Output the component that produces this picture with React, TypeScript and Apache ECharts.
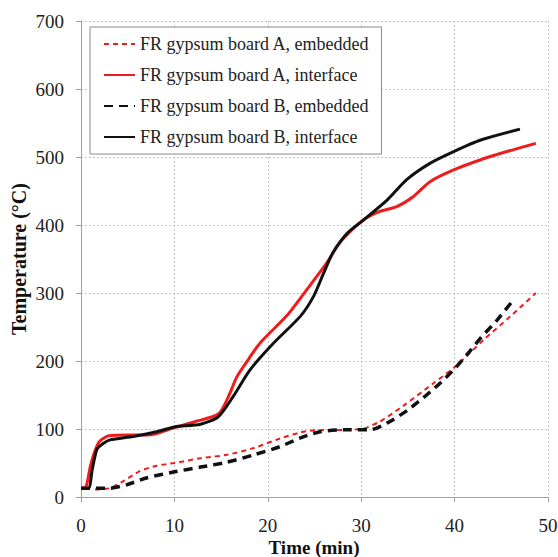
import React, { useEffect, useRef } from "react";
import * as echarts from "echarts";

const seriesNames = [
  "FR gypsum board A, embedded",
  "FR gypsum board A, interface",
  "FR gypsum board B, embedded",
  "FR gypsum board B, interface",
];

const xTitle = "Time (min)";
const yTitle = "Temperature (°C)";

const aEmbedded: [number, number][] = [
  [1.5, 11], [3.1, 13], [4.5, 23], [6.3, 38], [8.1, 46], [10, 50], [12.8, 57], [15.6, 62],
  [18.5, 72], [21.3, 86], [23.5, 95], [25, 98], [30, 100], [32, 111], [34.5, 134], [37.8, 168],
  [40.1, 192], [43.1, 231], [46, 266], [48.7, 300],
];

const aInterface: [number, number][] = [
  [0, 13], [0.5, 14], [1, 45], [1.5, 68], [2, 82], [3, 90], [5, 91], [7, 91], [8, 93], [10, 102],
  [12, 110], [14.7, 122], [15.7, 145], [16.7, 177], [18, 204], [19.2, 227], [22, 266], [23.8, 298],
  [25, 320], [26.3, 344], [27.5, 370], [28.5, 386], [30.3, 408], [32, 420], [33.8, 427],
  [35.6, 442], [37.4, 464], [39.9, 481], [42.8, 496], [45.6, 508], [48.7, 520],
];

const bEmbedded: [number, number][] = [
  [0, 13], [3.1, 13], [4.9, 18], [7, 28], [10, 37], [12.8, 44], [15.6, 51], [18.5, 62], [21.3, 74],
  [23.5, 87], [25.6, 96], [28.5, 99], [31, 99], [32.8, 109], [35, 128], [37, 150], [38.5, 168],
  [40.1, 190], [41.3, 209], [42.8, 234], [44.6, 261], [46.3, 290],
];

const bInterface: [number, number][] = [
  [0, 13], [0.8, 13], [1.2, 40], [1.7, 70], [2.3, 78], [3.1, 84], [5.6, 89], [8.1, 96], [10, 103],
  [12.8, 107], [14.7, 118], [16.3, 148], [18.1, 187], [20.6, 226], [23.5, 266], [24.9, 295],
  [26, 330], [27, 360], [28.5, 388], [30.3, 408], [32.8, 437], [34.9, 467], [37.4, 491],
  [39.9, 508], [42.8, 525], [47, 541],
];

const FONT = "'Liberation Serif', 'Times New Roman', serif";
const RED = "#ee1c1c";
const BLACK = "#111111";

export default function App() {
  const ref = useRef<HTMLDivElement>(null);
  useEffect(() => {
    if (!ref.current) return;
    const chart = echarts.init(ref.current, undefined, { renderer: "svg" });
    const gridLine = { show: true, lineStyle: { color: "#c4c4c4", type: [2, 2] as any, width: 1 } };
    const lineSeries = (name: string, data: [number, number][], color: string, width: number, type: any, z: number) => ({
      name,
      type: "line",
      data,
      smooth: 0.25,
      symbol: "none",
      lineStyle: { color, width, type },
      itemStyle: { color },
      z,
    });
    chart.setOption({
      animation: false,
      backgroundColor: "#ffffff",
      textStyle: { fontFamily: FONT },
      grid: { left: 81, right: 10, top: 21, bottom: 60, containLabel: false, outerBoundsMode: "none" },
      legend: {
        orient: "vertical",
        left: 90,
        top: 27,
        padding: [8, 12, 8, 13],
        itemGap: 13,
        itemWidth: 31,
        itemHeight: 14,
        backgroundColor: "#ffffff",
        borderColor: "#8a8a8a",
        borderWidth: 1,
        itemStyle: { opacity: 0 },
        textStyle: { fontFamily: FONT, fontSize: 18, color: "#222" },
        data: seriesNames,
      },
      graphic: [
        {
          type: "text",
          x: 314,
          y: 547,
          style: {
            text: xTitle,
            font: `bold 19px ${FONT}`,
            fill: "#111",
            align: "center",
            verticalAlign: "middle",
          },
        },
        {
          type: "text",
          x: 19,
          y: 259,
          rotation: Math.PI / 2,
          style: {
            text: yTitle,
            font: `bold 20px ${FONT}`,
            fill: "#111",
            align: "center",
            verticalAlign: "middle",
          },
        },
      ],
      xAxis: {
        type: "value",
        min: 0,
        max: 50,
        interval: 10,
        axisLine: { show: true, lineStyle: { color: "#a0a0a0", width: 1 } },
        axisTick: { show: true, length: 5, lineStyle: { color: "#a0a0a0" } },
        axisLabel: { fontFamily: FONT, fontSize: 19, color: "#222", margin: 19 },
        splitLine: gridLine,
      },
      yAxis: {
        type: "value",
        min: 0,
        max: 700,
        interval: 100,
        axisLine: { show: true, lineStyle: { color: "#a0a0a0", width: 1 } },
        axisTick: { show: true, length: 5, lineStyle: { color: "#a0a0a0" } },
        axisLabel: { fontFamily: FONT, fontSize: 19, color: "#222", margin: 17 },
        splitLine: gridLine,
      },
      series: [
        lineSeries(seriesNames[0], aEmbedded, RED, 2, [5, 4], 2),
        lineSeries(seriesNames[1], aInterface, RED, 3, "solid", 3),
        lineSeries(seriesNames[2], bEmbedded, BLACK, 3.5, [9, 6], 2),
        lineSeries(seriesNames[3], bInterface, BLACK, 3, "solid", 4),
      ],
    });
    return () => chart.dispose();
  }, []);
  return <div ref={ref} style={{ width: 558, height: 557, position: "fixed", left: 0, top: 0 }} />;
}
